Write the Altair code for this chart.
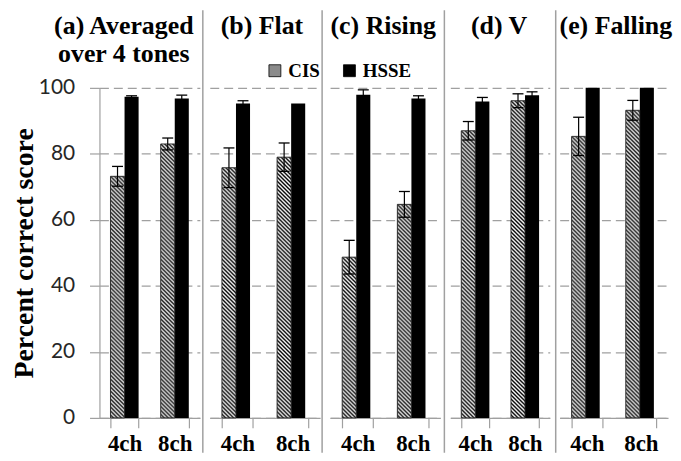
import urllib.parse
import altair as alt
import pandas as pd

# ---------------- data ----------------
PANEL_TITLES = ["(a) Averaged\nover 4 tones", "(b) Flat", "(c) Rising", "(d) V", "(e) Falling"]
CHANNELS = ["4ch", "8ch"]
SERIES = ["CIS", "HSSE"]

CIS_4CH = [73.2, 75.8, 48.7, 87.0, 85.3]
CIS_4CH_ERR = [3.0, 6.0, 5.1, 2.8, 5.8]
CIS_8CH = [83.0, 79.0, 64.7, 96.1, 93.2]
CIS_8CH_ERR = [1.8, 4.3, 3.9, 2.1, 3.0]
HSSE_4CH = [97.3, 95.3, 97.9, 95.9, 100.0]
HSSE_4CH_ERR = [0.3, 0.8, 1.5, 1.2, 0.0]
HSSE_8CH = [96.8, 95.3, 96.8, 97.8, 100.0]
HSSE_8CH_ERR = [1.0, 0.0, 0.8, 1.0, 0.0]
Y_TICKS = [0, 20, 40, 60, 80, 100]
Y_TITLE = "Percent correct score"

# ---------------- layout / style ----------------
PANEL_WIDTHS = [101, 111, 111, 100, 109]
HEIGHT = 332
SPACING = 10
TITLE_DX = [-26, -3, -2, -1, 2]
SEP_DX = [None, -7, -8, -6, -4]
GRAY = "#a0a0a0"
SERIF = "Liberation Serif"

HATCH_SVG = (
    "<svg xmlns='http://www.w3.org/2000/svg' width='100%' height='100%'>"
    "<defs><pattern id='h' width='4' height='4' patternUnits='userSpaceOnUse'>"
    "<rect width='4' height='4' fill='white'/>"
    "<path d='M-1,-1 L5,5 M-1,3 L1,5 M3,-1 L5,1' stroke='black' stroke-width='1.4'/>"
    "</pattern></defs><rect width='100%' height='100%' fill='url(#h)'/></svg>"
)
HATCH_URL = "data:image/svg+xml;charset=utf-8," + urllib.parse.quote(HATCH_SVG)


def panel_table(i):
    return pd.DataFrame({
        "channel": ["4ch", "4ch", "8ch", "8ch"],
        "series": ["CIS", "HSSE", "CIS", "HSSE"],
        "value": [CIS_4CH[i], HSSE_4CH[i], CIS_8CH[i], HSSE_8CH[i]],
        "err": [CIS_4CH_ERR[i], HSSE_4CH_ERR[i], CIS_8CH_ERR[i], HSSE_8CH_ERR[i]],
    })


legend = alt.Legend(
    title=None, orient="none", legendX=167, legendY=-27, direction="horizontal",
    symbolType="square", symbolSize=144, symbolStrokeColor="black", symbolStrokeWidth=0.8,
    symbolOpacity=1, labelFont=SERIF, labelFontWeight="bold", labelFontSize=19,
    labelColor="black", labelOffset=4, columnPadding=20, padding=0,
)


def make_panel(i):
    width = PANEL_WIDTHS[i]
    if i == 0:
        yaxis = alt.Axis(
            values=Y_TICKS, title=Y_TITLE, titleFont=SERIF, titleFontWeight="bold",
            titleFontSize=28, titleColor="black", titlePadding=0,
            labelFont="Lato", labelFontSize=21, labelColor="#262626", labelPadding=15,
            tickSize=10, tickColor=GRAY, tickWidth=1.2, domainColor=GRAY, domainWidth=1.2,
            grid=True, gridColor=GRAY, gridDash=[9, 5], gridWidth=1.3,
        )
    else:
        yaxis = alt.Axis(
            values=Y_TICKS, title=None, labels=False, ticks=False, domain=False,
            grid=True, gridColor=GRAY, gridDash=[9, 5], gridWidth=1.3,
        )
    yscale = alt.Scale(domain=[0, 100], nice=False, zero=True)

    def Y(field):
        return alt.Y(field, scale=yscale, axis=yaxis)

    xenc = alt.X(
        "channel:N", sort=CHANNELS,
        scale=alt.Scale(paddingInner=0.44, paddingOuter=0.22),
        axis=alt.Axis(
            title=None, labelAngle=0, labelFont=SERIF, labelFontWeight="bold",
            labelFontSize=23, labelColor="black", labelPadding=5,
            tickBand="extent", tickSize=10, tickColor=GRAY, tickWidth=1.2,
            domainColor=GRAY, domainWidth=1.2, grid=False,
        ),
    )
    xoff = alt.XOffset("series:N", sort=SERIES, scale=alt.Scale(paddingInner=0, paddingOuter=0))

    base = alt.Chart(panel_table(i)).encode(x=xenc, xOffset=xoff)

    bars = base.mark_bar().encode(
        y=Y("value:Q"),
        color=alt.Color("series:N", sort=SERIES,
                        scale=alt.Scale(domain=SERIES, range=["#8a8a8a", "black"]),
                        legend=legend),
    )
    cis = base.transform_filter(alt.datum.series == "CIS")
    hatch = cis.mark_image(aspect=False).encode(
        y=Y("value:Q"), y2=alt.datum(0), url=alt.value(HATCH_URL)
    )
    outline = cis.mark_bar(fillOpacity=0, stroke="#222222", strokeWidth=0.9).encode(y=Y("value:Q"))

    errs = base.transform_filter(alt.datum.err > 0).transform_calculate(
        lo="datum.value - datum.err", hi="datum.value + datum.err"
    )
    stem = errs.mark_rule(color="black", strokeWidth=1.2).encode(y=Y("lo:Q"), y2="hi:Q")
    cap_lo = errs.mark_tick(orient="horizontal", size=11, thickness=1.3, color="black", opacity=1).encode(y=Y("lo:Q"))
    cap_hi = errs.mark_tick(orient="horizontal", size=11, thickness=1.3, color="black", opacity=1).encode(y=Y("hi:Q"))

    title = alt.Chart(pd.DataFrame({"title": [PANEL_TITLES[i]]})).mark_text(
        font=SERIF, fontWeight="bold", fontSize=26, lineBreak="\n", lineHeight=28,
        align="center", baseline="alphabetic", color="black",
    ).encode(text="title:N", x=alt.value(width / 2 + TITLE_DX[i]), y=alt.value(-54))

    layers = [bars, hatch, outline, stem, cap_lo, cap_hi, title]
    if SEP_DX[i] is not None:
        sep = alt.Chart(pd.DataFrame({"panel": [i]})).mark_rule(color=GRAY, strokeWidth=1.5).encode(
            x=alt.value(SEP_DX[i]), y=alt.value(-78), y2=alt.value(HEIGHT + 35)
        )
        layers.append(sep)
    return alt.layer(*layers).properties(width=width, height=HEIGHT)


chart = alt.hconcat(
    *[make_panel(i) for i in range(5)], spacing=SPACING, bounds="flush"
).resolve_scale(color="shared").resolve_legend(color="shared").properties(
    padding={"left": 2, "top": 0, "right": 0, "bottom": 0}, background="white"
).configure_view(stroke=None)

chart.save("out.html", embed_options={"renderer": "svg", "actions": False})
